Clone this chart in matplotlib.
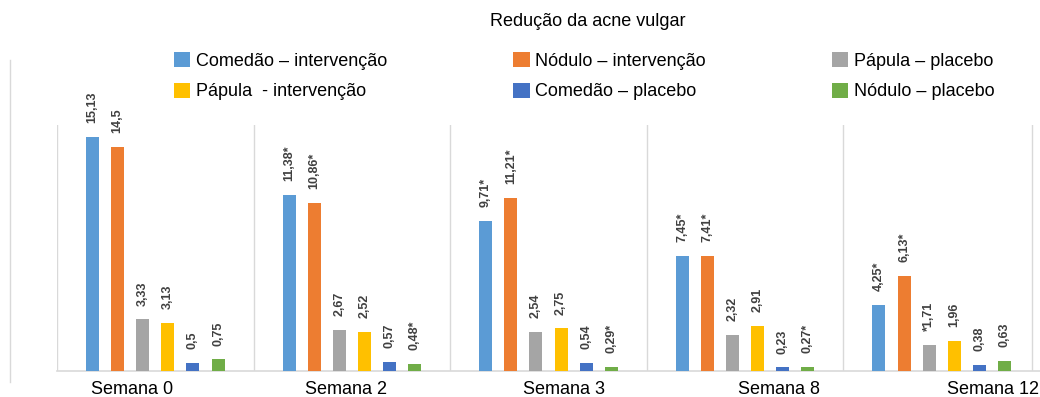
import matplotlib
matplotlib.use("Agg")
import matplotlib.pyplot as plt
from matplotlib.lines import Line2D
import numpy as np

plt.rcParams['font.family'] = ['Liberation Sans', 'DejaVu Sans']

semanas = ['Semana 0', 'Semana 2', 'Semana 3', 'Semana 8', 'Semana 12']

# bar order inside each week, left to right
series_names = ['Comedão – intervenção', 'Nódulo – intervenção', 'Pápula – placebo',
                'Pápula  - intervenção', 'Comedão – placebo', 'Nódulo – placebo']
series_colors = ['#5B9BD5', '#ED7D31', '#A5A5A5', '#FFC000', '#4472C4', '#70AD47']

comedao_int = [15.13, 11.38, 9.71, 7.45, 4.25]
nodulo_int = [14.5, 10.86, 11.21, 7.41, 6.13]
papula_plac = [3.33, 2.67, 2.54, 2.32, 1.71]
papula_int = [3.13, 2.52, 2.75, 2.91, 1.96]
comedao_plac = [0.5, 0.57, 0.54, 0.23, 0.38]
nodulo_plac = [0.75, 0.48, 0.29, 0.27, 0.63]

comedao_int_lbl = ['15,13', '11,38*', '9,71*', '7,45*', '4,25*']
nodulo_int_lbl = ['14,5', '10,86*', '11,21*', '7,41*', '6,13*']
papula_plac_lbl = ['3,33', '2,67', '2,54', '2,32', '*1,71']
papula_int_lbl = ['3,13', '2,52', '2,75', '2,91', '1,96']
comedao_plac_lbl = ['0,5', '0,57', '0,54', '0,23', '0,38']
nodulo_plac_lbl = ['0,75', '0,48*', '0,29*', '0,27*', '0,63']

values = [comedao_int, nodulo_int, papula_plac, papula_int, comedao_plac, nodulo_plac]
labels = [comedao_int_lbl, nodulo_int_lbl, papula_plac_lbl, papula_int_lbl,
          comedao_plac_lbl, nodulo_plac_lbl]

# week label positions (they sit a bit off the group centres in the original)
tick_pos = [-0.12, 0.97, 2.08, 3.17, 4.26]

fig = plt.figure(figsize=(10.4, 3.97), dpi=100)
ax = fig.add_axes([57/1040, 26/397, 983/1040, 246/397])

x = np.arange(len(semanas))
step = 0.1277
width = 0.066
grid_col = '#D9D9D9'

handles = []
for i, (vals, lbls) in enumerate(zip(values, labels)):
    xs = x + (i - 2.5) * step
    bars = ax.bar(xs, vals, width, color=series_colors[i], label=series_names[i], zorder=3)
    handles.append(bars)
    for xb, v, t in zip(xs, vals, lbls):
        ax.annotate(t, (xb, v), xytext=(0, 10), textcoords='offset points',
                    rotation=90, ha='center', va='bottom', fontsize=9,
                    fontweight='bold', color='#404040', annotation_clip=False)

ax.set_xlim(-0.5, 4.5)
ax.set_ylim(0, 15.9)
for b in [-0.5, 0.5, 1.5, 2.5, 3.5, 4.46]:
    ax.axvline(b, color=grid_col, lw=1, zorder=1)

for s in ['top', 'right', 'left']:
    ax.spines[s].set_visible(False)
ax.spines['bottom'].set_color(grid_col)
ax.spines['bottom'].set_linewidth(1.2)
ax.set_yticks([])
ax.set_xticks(tick_pos)
ax.set_xticklabels(semanas, fontsize=13, color='#000000')
ax.tick_params(axis='x', length=0, pad=7)

# thin line at the far left of the picture
fig.add_artist(Line2D([10/1040, 10/1040], [15/397, 337/397], color=grid_col, lw=1))

fig.text(588/1040, 1 - 22/397, 'Redução da acne vulgar', ha='center', va='center',
         fontsize=13, color='#000000')

order = [0, 3, 1, 4, 2, 5]
fig.legend([handles[k] for k in order], [series_names[k] for k in order],
           loc='upper left', bbox_to_anchor=(174/1040, 1 - 52/397), ncol=3,
           frameon=False, fontsize=13, handlelength=0.9, handleheight=0.9,
           handletextpad=0.3, columnspacing=7.0, labelspacing=0.72, borderpad=0,
           borderaxespad=0)

fig.savefig('out.png', dpi=100)
